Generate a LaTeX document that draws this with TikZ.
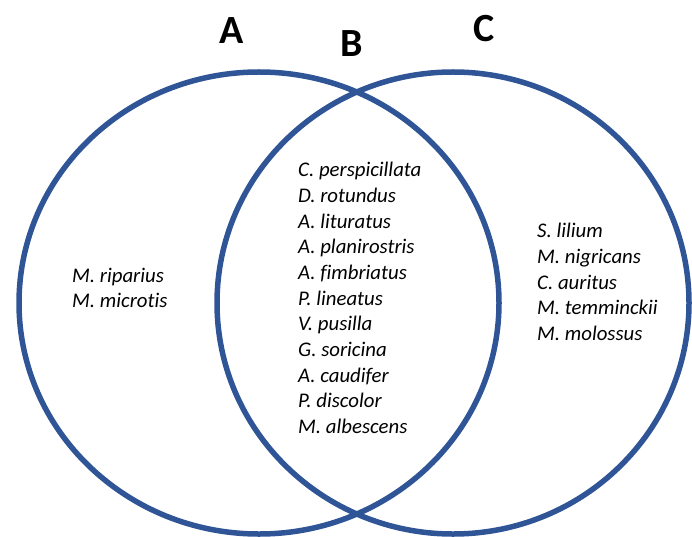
\documentclass[tikz,border=0pt]{standalone}
\usepackage{fontspec}
\setmainfont[Ligatures=NoCommon]{Carlito}
\definecolor{vennblue}{RGB}{47,85,151}
\begin{document}
\begin{tikzpicture}[x=1pt,y=-1pt,
  ring/.style={draw=vennblue,line width=5.5pt},
  species/.style={font=\fontsize{20.8}{25.7}\selectfont\itshape,align=left,anchor=west,inner sep=0pt},
  setlabel/.style={font=\fontsize{40}{40}\selectfont\bfseries,inner sep=0pt}]
\useasboundingbox (0,0) rectangle (692,537);
\draw[ring] (259,303) ellipse [x radius=240, y radius=231];
\draw[ring] (453,303) ellipse [x radius=236, y radius=231];
\node[setlabel] (A) at (232,31) {A};
\node[setlabel] (B) at (352,44) {B};
\node[setlabel] (C) at (484,29) {C};
\node[species] (left) at (72,288) {M. riparius\\M. microtis};
\node[species] (mid) at (298,298) {C. perspicillata\\D. rotundus\\A. lituratus\\A. planirostris\\A. fimbriatus\\P. lineatus\\V. pusilla\\G. soricina\\A. caudifer\\P. discolor\\M. albescens};
\node[species] (right) at (537,282) {S. lilium\\M. nigricans\\C. auritus\\M. temminckii\\M. molossus};
\end{tikzpicture}
\end{document}
